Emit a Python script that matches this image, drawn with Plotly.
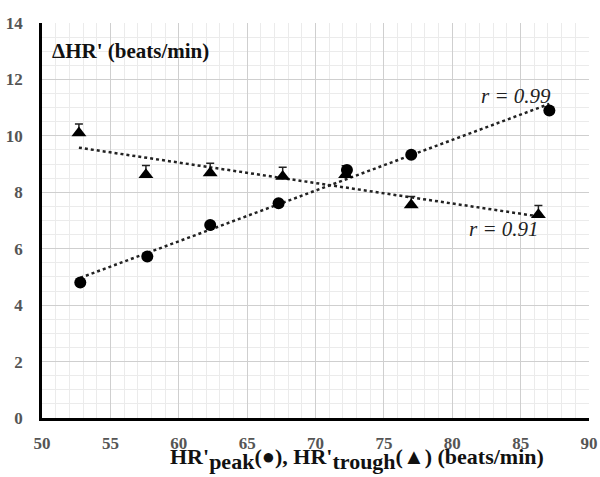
import numpy as np
import plotly.graph_objects as go

# HR' peak (circles) and HR' trough (triangles) against ΔHR'
peak_x = [52.8, 57.7, 62.3, 67.3, 72.3, 77.0, 87.1]
peak_y = [4.80, 5.72, 6.84, 7.61, 8.79, 9.33, 10.90]
trough_x = [52.7, 57.6, 62.3, 67.6, 72.2, 77.0, 86.3]
trough_y = [10.10, 8.62, 8.68, 8.56, 8.62, 7.55, 7.20]
trough_err = [0.32, 0.33, 0.35, 0.33, 0.32, 0.30, 0.33]
r_labels = ["r = 0.99", "r = 0.91"]

x_ticks = [50, 55, 60, 65, 70, 75, 80, 85, 90]
y_ticks = [0, 2, 4, 6, 8, 10, 12, 14]

serif = "serif"

fig = go.Figure()


def trend(xs, ys):
    k, b = np.polyfit(xs, ys, 1)
    xx = np.array([min(xs), max(xs)])
    return xx, k * xx + b


for xs, ys in [(peak_x, peak_y), (trough_x, trough_y)]:
    tx, ty = trend(xs, ys)
    fig.add_trace(go.Scatter(x=tx, y=ty, mode="lines",
                             line=dict(color="#222", width=2.5, dash="dot"),
                             hoverinfo="skip", showlegend=False))

fig.add_trace(go.Scatter(
    x=trough_x, y=trough_y, mode="markers",
    marker=dict(symbol="triangle-up", size=13, color="black"),
    error_y=dict(type="data", array=trough_err, arrayminus=[0] * len(trough_err),
                 color="#222", thickness=1.5, width=4),
    showlegend=False))

fig.add_trace(go.Scatter(
    x=peak_x, y=peak_y, mode="markers",
    marker=dict(symbol="circle", size=12, color="black"),
    showlegend=False))

fig.add_annotation(x=0.015, y=0.965, xref="paper", yref="paper",
                   xanchor="left", yanchor="top", showarrow=False,
                   text="<b>ΔHR' (beats/min)</b>",
                   font=dict(family=serif, size=21, color="#111"))

fig.add_annotation(x=87.4, y=10.9, xanchor="right", yanchor="bottom",
                   showarrow=False, text="<i>" + r_labels[0] + "</i>",
                   font=dict(family=serif, size=21, color="#222"))
fig.add_annotation(x=86.5, y=7.2, xanchor="right", yanchor="top",
                   showarrow=False, text="<i>" + r_labels[1] + "</i>",
                   font=dict(family=serif, size=21, color="#222"))

fig.add_annotation(
    x=0.575, y=-0.062, xref="paper", yref="paper", xanchor="center", yanchor="top",
    showarrow=False,
    text="<b>HR'<sub><span style='font-size:22px'>peak</span></sub>(●), "
         "HR'<sub><span style='font-size:22px'>trough</span></sub>(▲) (beats/min)</b>",
    font=dict(family=serif, size=22, color="#111"))

fig.update_xaxes(
    range=[50, 90], tickvals=x_ticks, ticktext=["<b>%d</b>" % v for v in x_ticks],
    showgrid=True, gridcolor="#cfcfcf", gridwidth=1,
    minor=dict(dtick=1, showgrid=True, gridcolor="#ebebeb", gridwidth=1),
    showline=True, linecolor="black", linewidth=2.5, mirror=False,
    zeroline=False, ticks="", ticklabelstandoff=8, ticklabeloverflow="allow",
    automargin=False,
    tickfont=dict(family=serif, size=17, color="#555"))
fig.update_yaxes(
    range=[0, 14], tickvals=y_ticks, ticktext=["<b>%d</b>" % v for v in y_ticks],
    showgrid=True, gridcolor="#cfcfcf", gridwidth=1,
    minor=dict(dtick=0.5, showgrid=True, gridcolor="#ebebeb", gridwidth=1),
    showline=True, linecolor="black", linewidth=2.5,
    zeroline=False, ticks="", ticklabelstandoff=13, automargin=False,
    tickfont=dict(family=serif, size=17, color="#555"))

fig.update_layout(
    width=600, height=477,
    margin=dict(l=42, r=11, t=23, b=59),
    paper_bgcolor="white", plot_bgcolor="white",
    showlegend=False)

fig.write_html("out.html")
